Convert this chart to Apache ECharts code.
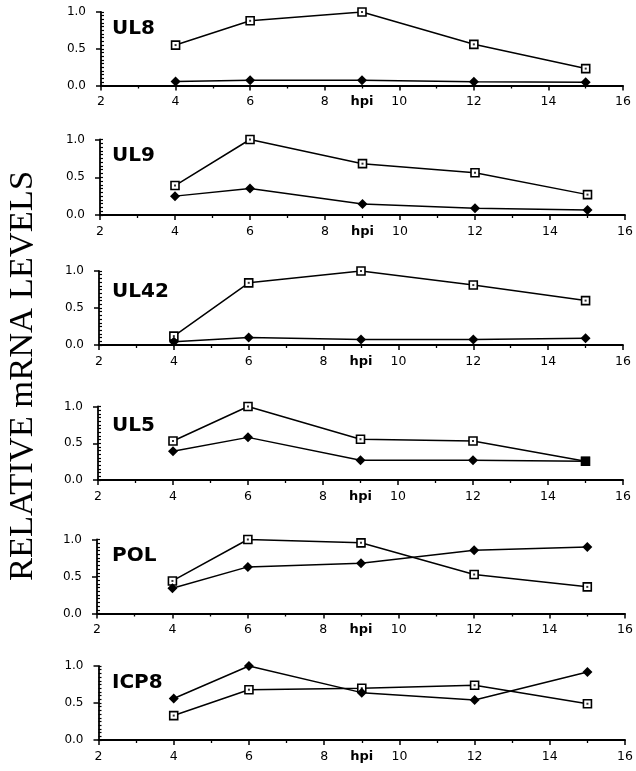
<!DOCTYPE html>
<html>
<head>
<meta charset="utf-8">
<script src="https://cdn.jsdelivr.net/npm/echarts@6/dist/echarts.min.js"></script>
<style>
html,body{margin:0;padding:0;background:#fff;}
#chart{width:636px;height:771px;}
</style>
</head>
<body>
<div id="chart"></div>
<script>
// ---- data ----
var hours = [4, 6, 9, 12, 15];
var xTickValues = [2, 4, 6, 8, 10, 12, 14, 16];
var xLabelValues = [2, 4, 6, 8, 9, 10, 12, 14, 16];
var xAxisTitle = 'hpi';
var yTickValues = [0.0, 0.5, 1.0];
var panelNames = ['UL8', 'UL9', 'UL42', 'UL5', 'POL', 'ICP8'];
var yTitle = 'RELATIVE mRNA LEVELS';

var ul8Open    = [0.55, 0.88, 1.00, 0.56, 0.23];
var ul8Filled  = [0.055, 0.07, 0.07, 0.05, 0.045];
var ul9Open    = [0.39, 1.00, 0.68, 0.56, 0.27];
var ul9Filled  = [0.25, 0.35, 0.145, 0.09, 0.065];
var ul42Open   = [0.12, 0.84, 1.00, 0.81, 0.60];
var ul42Filled = [0.045, 0.10, 0.075, 0.075, 0.09];
var ul5Open    = [0.53, 1.00, 0.555, 0.53, 0.255];
var ul5Filled  = [0.39, 0.58, 0.27, 0.27, 0.255];
var polOpen    = [0.44, 1.00, 0.955, 0.527, 0.36];
var polFilled  = [0.34, 0.63, 0.68, 0.855, 0.90];
var icp8Open   = [0.33, 0.68, 0.70, 0.74, 0.49];
var icp8Filled = [0.56, 1.00, 0.64, 0.54, 0.92];

var openSeries = [ul8Open, ul9Open, ul42Open, ul5Open, polOpen, icp8Open];
var filledSeries = [ul8Filled, ul9Filled, ul42Filled, ul5Filled, polFilled, icp8Filled];

// ---- layout ----
var grids = [
  {left: 101, top: 12,  width: 522, height: 73.5},
  {left: 100, top: 139.5, width: 525, height: 75.5},
  {left: 99,  top: 271, width: 524, height: 74},
  {left: 98,  top: 406.5, width: 525, height: 73.5},
  {left: 97,  top: 539.5, width: 528, height: 74},
  {left: 98.5, top: 666, width: 530.5, height: 74}
];
var labelY = [28, 155, 291, 425, 555, 682];

function pairs(ys) { return hours.map(function (h, i) { return [h, ys[i]]; }); }

var font = '"DejaVu Sans", Verdana, sans-serif';
var option = {
  backgroundColor: '#fff',
  animation: false,
  grid: [], xAxis: [], yAxis: [], series: [], graphic: []
};

grids.forEach(function (g, i) {
  var openV = openSeries[i], fillV = filledSeries[i];
  option.grid.push({left: g.left, top: g.top, width: g.width, height: g.height, containLabel: false});
  option.xAxis.push({
    type: 'value', gridIndex: i, min: xTickValues[0], max: xTickValues[xTickValues.length - 1], interval: 2,
    axisLine: {show: true, onZero: false, lineStyle: {color: '#000', width: 1.8}},
    axisTick: {show: true, length: 5, lineStyle: {color: '#000', width: 1.5}},
    minorTick: {show: true, splitNumber: 2, length: 3, lineStyle: {color: '#000', width: 1.3}},
    splitLine: {show: false},
    axisLabel: {color: '#000', fontSize: 12.5, fontFamily: font, margin: 10,
      customValues: xLabelValues,
      formatter: function (v) { return v === 9 ? '{b|' + xAxisTitle + '}' : String(v); },
      rich: {b: {fontWeight: 'bold', fontSize: 13, fontFamily: font, color: '#000'}}}
  });
  option.yAxis.push({
    type: 'value', gridIndex: i, min: yTickValues[0], max: yTickValues[yTickValues.length - 1], interval: 0.5,
    axisLine: {show: true, onZero: false, lineStyle: {color: '#000', width: 1.8}},
    axisTick: {show: true, length: 5, lineStyle: {color: '#000', width: 1.5}},
    splitLine: {show: false},
    axisLabel: {color: '#000', fontSize: 12, fontFamily: font, margin: 15,
      formatter: function (v) { return v.toFixed(1); }}
  });
  option.yAxis.push({
    type: 'value', gridIndex: i, position: 'left', min: 0, max: 1, interval: 0.05,
    axisLine: {show: false},
    axisTick: {show: true, inside: true, length: 3, lineStyle: {color: '#000', width: 1.2}},
    axisLabel: {show: false}, splitLine: {show: false}
  });
  option.series.push({
    type: 'line', xAxisIndex: i, yAxisIndex: 2 * i, data: pairs(openV),
    symbol: 'rect', symbolSize: 8, z: 3,
    lineStyle: {color: '#000', width: 1.5},
    itemStyle: {color: '#fff', borderColor: '#000', borderWidth: 1.6}
  });
  option.series.push({
    type: 'scatter', xAxisIndex: i, yAxisIndex: 2 * i, data: pairs(openV),
    symbol: 'rect', symbolSize: 2, z: 4, itemStyle: {color: '#000'}
  });
  option.series.push({
    type: 'line', xAxisIndex: i, yAxisIndex: 2 * i, data: pairs(fillV),
    // where both measurements coincide the marks merge into one solid square
    symbol: function (val, params) { return openV[params.dataIndex] === fillV[params.dataIndex] ? 'rect' : 'diamond'; },
    symbolSize: function (val, params) { return openV[params.dataIndex] === fillV[params.dataIndex] ? 9 : 10; },
    z: 5,
    lineStyle: {color: '#000', width: 1.5},
    itemStyle: {color: '#000', borderColor: '#000', borderWidth: 0}
  });
  option.graphic.push({
    type: 'text', left: 112, top: labelY[i] - 9,
    style: {text: panelNames[i], fill: '#000', font: 'bold 20px ' + font}
  });
});

option.graphic.push({
  type: 'text', x: 22.5, y: 376, rotation: Math.PI / 2,
  style: {text: yTitle, fill: '#000', font: '34.5px "Liberation Serif", "Times New Roman", serif',
    textAlign: 'center', textVerticalAlign: 'middle'}
});

var chart = echarts.init(document.getElementById('chart'), null, {renderer: 'canvas'});
chart.setOption(option);
</script>
</body>
</html>
